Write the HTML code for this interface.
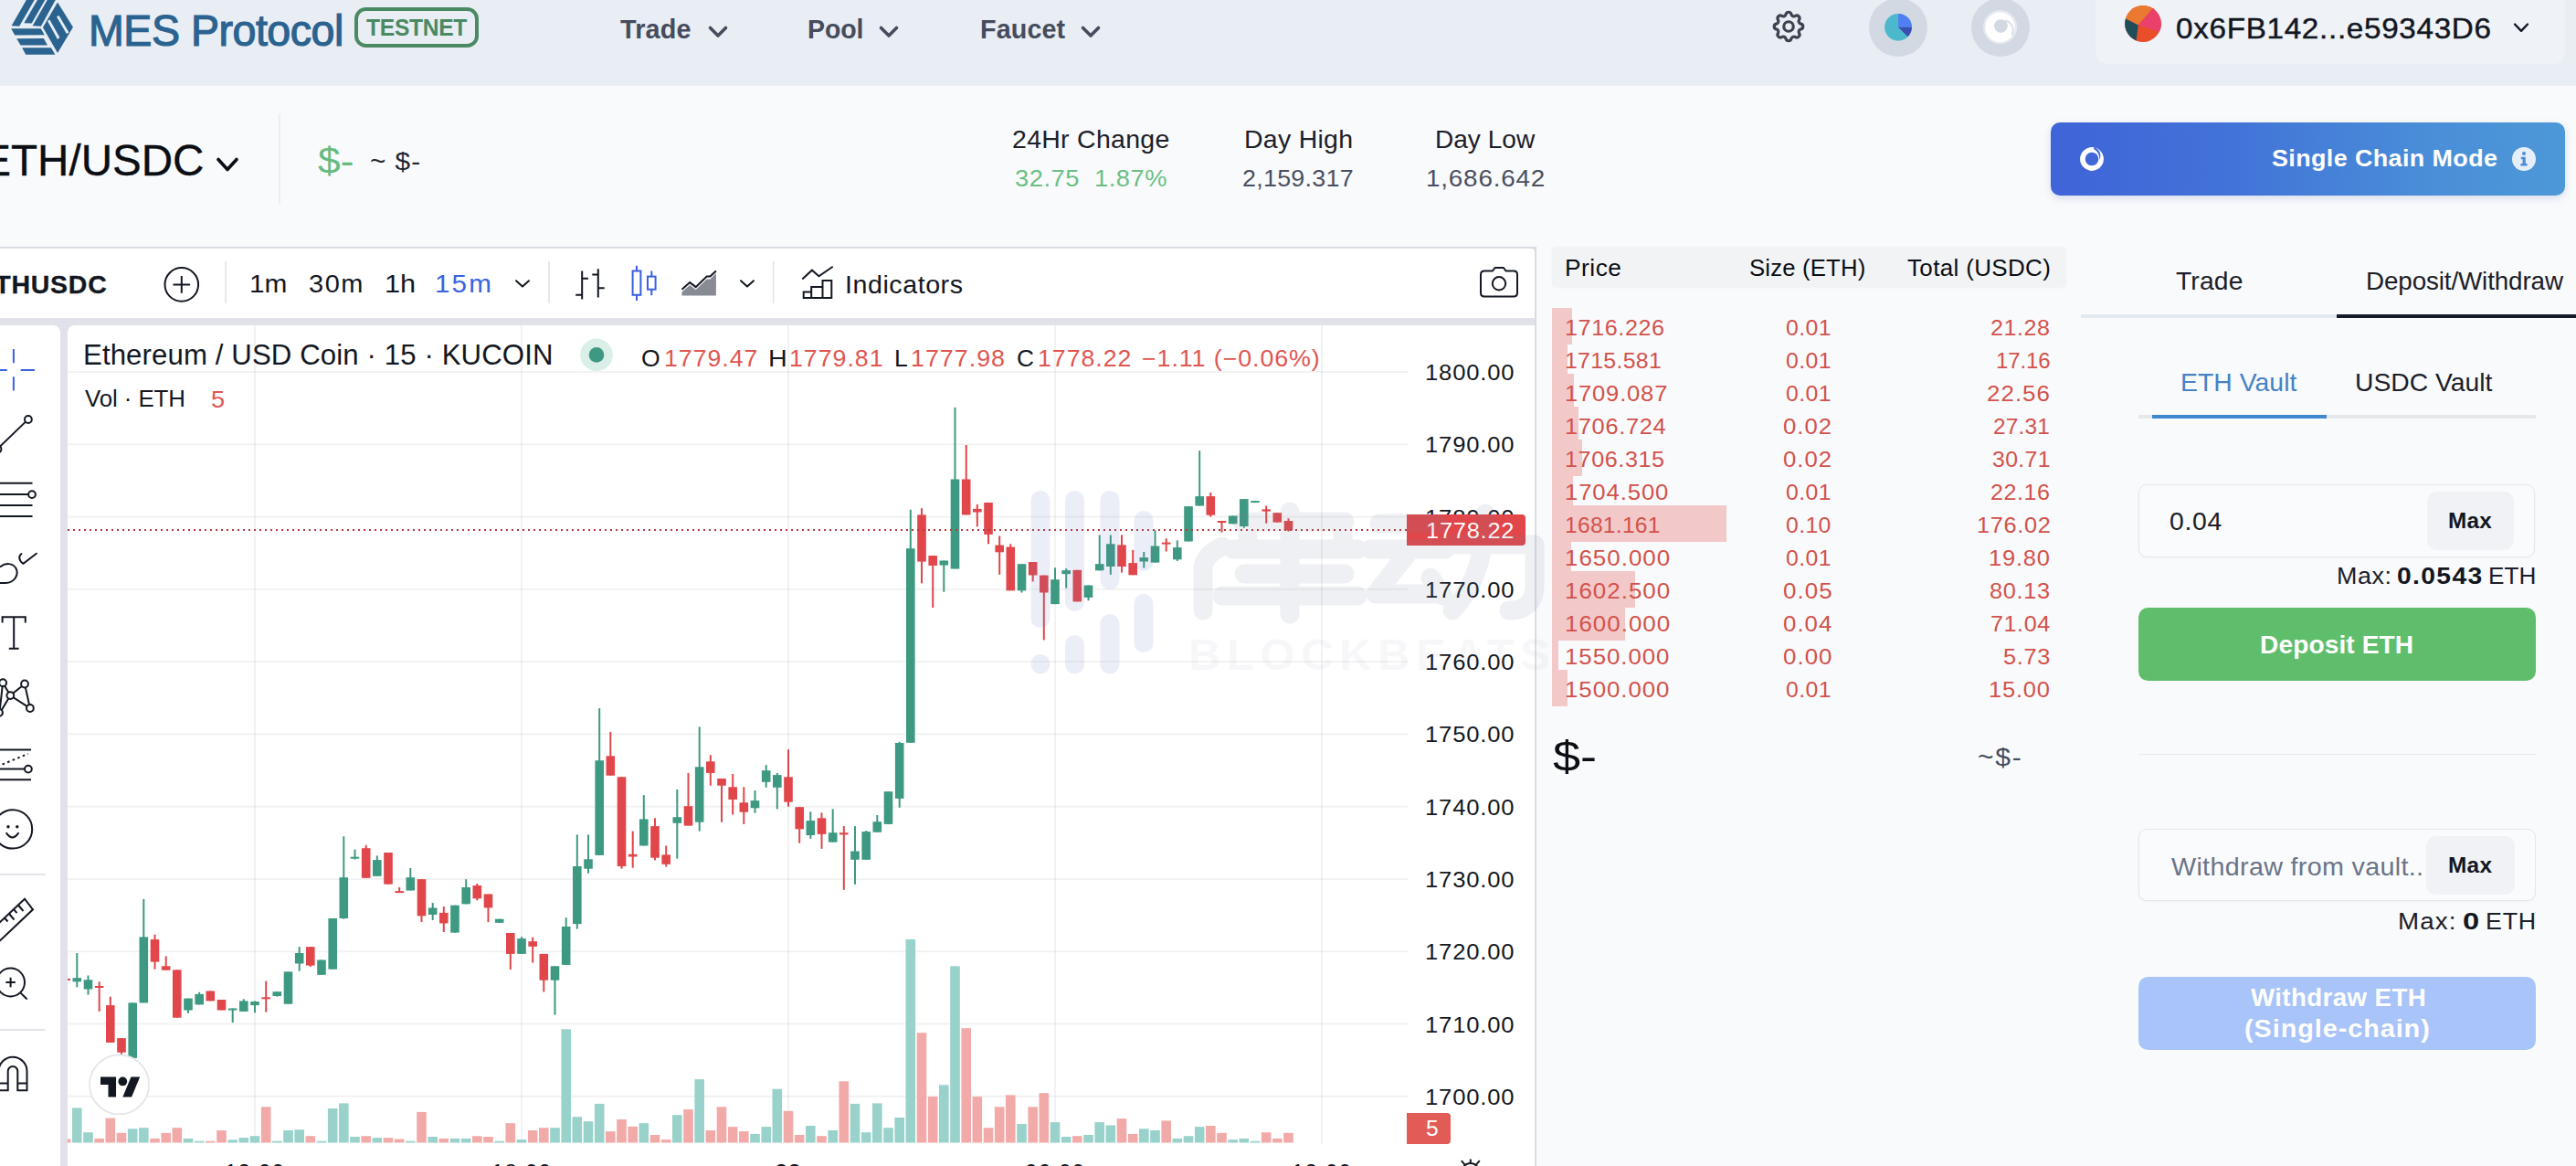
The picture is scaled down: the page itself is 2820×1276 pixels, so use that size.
<!DOCTYPE html>
<html><head><meta charset="utf-8"><title>MES Protocol</title>
<style>
html,body{margin:0;padding:0;width:2820px;height:1276px;overflow:hidden}
#root{position:absolute;left:0;top:0;width:2820px;height:1276px;overflow:hidden;background:#f9fafc}
body{width:2820px;height:1276px;overflow:hidden;position:relative;background:#f9fafc;font-family:"Liberation Sans", sans-serif;}
b{font-weight:700}
</style></head><body><div id="root">
<div style="position:absolute;left:0.0px;top:0.0px;width:2820.0px;height:94.0px;background:#e9edf4;"></div>
<svg style="position:absolute;left:0;top:0" width="100" height="70" viewBox="0 0 1666 1166"><g fill="#2b6390">
<polygon points="210,470 352,480 628,0 480,0"/>
<polygon points="438,422 578,426 822,0 682,0"/>
<polygon points="594,470 748,480 1012,0 862,0"/>
<polygon points="203,520 745,520 812,636 270,640"/>
<polygon points="303,704 797,700 866,826 376,826"/>
<polygon points="403,870 932,870 1007,996 470,996"/>
<polygon points="1050,42 1332,495 1050,968 782,500"/>
</g><g fill="#e9edf4">
<polygon points="1033,306 1075,284 1257,592 1215,616"/>
<polygon points="866,382 906,358 1088,682 1050,716"/>
</g></svg>

<div style="position:absolute;left:96.67px;top:4.64px;height:57.0px;line-height:57.0px;font-size:47.5px;color:#2b6390;font-weight:400;white-space:nowrap;letter-spacing:-0.507px;transform-origin:0 0;transform:scaleX(0.9807);-webkit-text-stroke:1.2px #2b6390;">MES Protocol</div>
<div style="position:absolute;left:388.0px;top:8.3px;width:136.0px;height:43.6px;background:transparent;box-sizing:border-box;border:4px solid #4a8a62;border-radius:12.5px;"></div>
<div style="position:absolute;left:400.75px;top:15.44px;height:30.0px;line-height:30.0px;font-size:25px;color:#4a8a62;font-weight:700;white-space:nowrap;letter-spacing:-0.294px;transform-origin:0 0;transform:scaleX(0.9847);">TESTNET</div>
<div style="position:absolute;left:679.31px;top:14.83px;height:34.3px;line-height:34.3px;font-size:28.6px;color:#454c5c;font-weight:700;white-space:nowrap;letter-spacing:0.157px;transform-origin:0 0;transform:scaleX(1.0085);">Trade</div>
<svg style="position:absolute;left:773.5px;top:24px" width="24" height="22"><polyline points="3.5,6.5 12,15 20.5,6.5" fill="none" stroke="#454c5c" stroke-width="3.6" stroke-linecap="round" stroke-linejoin="round"/></svg>
<div style="position:absolute;left:884.35px;top:14.83px;height:34.3px;line-height:34.3px;font-size:28.6px;color:#454c5c;font-weight:700;white-space:nowrap;letter-spacing:-0.067px;transform-origin:0 0;transform:scaleX(0.9966);">Pool</div>
<svg style="position:absolute;left:960.5px;top:24px" width="24" height="22"><polyline points="3.5,6.5 12,15 20.5,6.5" fill="none" stroke="#454c5c" stroke-width="3.6" stroke-linecap="round" stroke-linejoin="round"/></svg>
<div style="position:absolute;left:1072.53px;top:14.83px;height:34.3px;line-height:34.3px;font-size:28.6px;color:#454c5c;font-weight:700;white-space:nowrap;letter-spacing:0.095px;transform-origin:0 0;transform:scaleX(1.0053);">Faucet</div>
<svg style="position:absolute;left:1182px;top:24px" width="24" height="22"><polyline points="3.5,6.5 12,15 20.5,6.5" fill="none" stroke="#454c5c" stroke-width="3.6" stroke-linecap="round" stroke-linejoin="round"/></svg>
<svg style="position:absolute;left:1936.9px;top:7.8px" width="42" height="42" viewBox="0 0 24 24" fill="none" stroke="#3b4250" stroke-width="1.85" stroke-linecap="round" stroke-linejoin="round"><path d="M10.325 4.317c.426-1.756 2.924-1.756 3.35 0a1.724 1.724 0 002.573 1.066c1.543-.94 3.31.826 2.37 2.37a1.724 1.724 0 001.065 2.572c1.756.426 1.756 2.924 0 3.35a1.724 1.724 0 00-1.066 2.573c.94 1.543-.826 3.31-2.37 2.37a1.724 1.724 0 00-2.572 1.065c-.426 1.756-2.924 1.756-3.35 0a1.724 1.724 0 00-2.573-1.066c-1.543.94-3.31-.826-2.37-2.37a1.724 1.724 0 00-1.065-2.572c-1.756-.426-1.756-2.924 0-3.35a1.724 1.724 0 001.066-2.573c-.94-1.543.826-3.31 2.37-2.37.996.608 2.296.07 2.572-1.065z"/><path d="M15 12a3 3 0 11-6 0 3 3 0 016 0z"/></svg>
<svg style="position:absolute;left:2040px;top:-10px" width="190" height="80" viewBox="2040 -10 190 80">
<circle cx="2078" cy="30" r="32" fill="#d3d9e3"/>
<circle cx="2078" cy="29.8" r="14.9" fill="#4bb9cb"/>
<path d="M2078 29.8 L2078 14.9 A14.9 14.9 0 0 1 2092.9 29.8 Z" fill="#4f7ff0"/>
<path d="M2078 29.8 L2092.9 29.8 A14.9 14.9 0 0 1 2088.5 40.3 Z" fill="#3b4fb3"/>
<circle cx="2190" cy="30" r="32" fill="#d3d9e3"/>
<circle cx="2189.6" cy="29.6" r="18.6" fill="#fff" opacity=".45"/>
<circle cx="2189.4" cy="29.8" r="16.2" fill="#fff"/>
<circle cx="2190.4" cy="28.6" r="7.4" fill="#d3d9e3"/>
<path d="M2195 22.5 C2202 24 2205.5 31 2202.5 38.5" fill="none" stroke="#d3d9e3" stroke-width="2.2" opacity=".8"/>
</svg>

<div style="position:absolute;left:2294.0px;top:-12.0px;width:514.0px;height:81.5px;background:#eff2f7;border-radius:12px;"></div>
<svg style="position:absolute;left:2325px;top:4.8px" width="42" height="42" viewBox="-21 -21 42 42">
<defs><clipPath id="av"><circle r="19.9"/></clipPath></defs>
<g clip-path="url(#av)"><rect x="-21" y="-21" width="42" height="42" fill="#e94d2a"/>
<polygon points="-5.2,1.5 -22,-7 -22,-22 13,-22 13,-19.5" fill="#ea7a2f"/>
<polygon points="-5.2,1.5 13,-19.5 13,-22 22,-22 22,9.8" fill="#e9416a"/>
<polygon points="-5.2,1.5 -7.8,21 -22,22 -22,-7" fill="#1f4e5a"/>
</g></svg>

<div style="position:absolute;left:2382.47px;top:11.61px;height:38.4px;line-height:38.4px;font-size:32px;color:#131722;font-weight:400;white-space:nowrap;letter-spacing:0.660px;transform-origin:0 0;transform:scaleX(1.0389);-webkit-text-stroke:0.45px #131722;">0x6FB142...e59343D6</div>
<svg style="position:absolute;left:2750px;top:22px" width="20" height="16"><polyline points="3,4.5 10,11.8 17,4.5" fill="none" stroke="#131722" stroke-width="2.4" stroke-linecap="round" stroke-linejoin="round"/></svg>
<div style="position:absolute;top:146.7px;height:57.1px;line-height:57.1px;font-size:47.6px;color:#0b0e14;font-weight:400;white-space:nowrap;right:2596.5px;-webkit-text-stroke:0.35px #0b0e14;">ETH/USDC</div>
<svg style="position:absolute;left:234px;top:168px" width="30" height="24"><polyline points="5,6.5 15,17.5 25,6.5" fill="none" stroke="#0b0e14" stroke-width="3.6" stroke-linecap="round" stroke-linejoin="round"/></svg>
<div style="position:absolute;left:305.0px;top:124.0px;width:1.5px;height:100.0px;background:#eceef2;"></div>
<div style="position:absolute;left:348.46px;top:152.34px;height:48.0px;line-height:48.0px;font-size:40px;color:#66bc80;font-weight:400;white-space:nowrap;letter-spacing:0.000px;transform-origin:0 0;transform:scaleX(1.1078);">$-</div>
<div style="position:absolute;left:404.56px;top:160.30px;height:33.6px;line-height:33.6px;font-size:28px;color:#22262e;font-weight:400;white-space:nowrap;letter-spacing:0.922px;transform-origin:0 0;transform:scaleX(1.0631);">~ $-</div>
<div style="position:absolute;left:1107.88px;top:136.40px;height:33.6px;line-height:33.6px;font-size:28px;color:#1c2028;font-weight:400;white-space:nowrap;letter-spacing:0.280px;transform-origin:0 0;transform:scaleX(1.0174);">24Hr Change</div>
<div style="position:absolute;left:1110.71px;top:179.51px;height:31.6px;line-height:31.6px;font-size:26.3px;color:#6cbf84;font-weight:400;white-space:nowrap;letter-spacing:0.501px;transform-origin:0 0;transform:scaleX(1.0373);">32.75&nbsp; 1.87%</div>
<div style="position:absolute;left:1361.72px;top:136.40px;height:33.6px;line-height:33.6px;font-size:28px;color:#1c2028;font-weight:400;white-space:nowrap;letter-spacing:0.265px;transform-origin:0 0;transform:scaleX(1.0170);">Day High</div>
<div style="position:absolute;left:1360.16px;top:179.51px;height:31.6px;line-height:31.6px;font-size:26.3px;color:#4a5060;font-weight:400;white-space:nowrap;letter-spacing:0.282px;transform-origin:0 0;transform:scaleX(1.0201);">2,159.317</div>
<div style="position:absolute;left:1571.46px;top:136.40px;height:33.6px;line-height:33.6px;font-size:28px;color:#1c2028;font-weight:400;white-space:nowrap;letter-spacing:0.015px;transform-origin:0 0;transform:scaleX(1.0008);">Day Low</div>
<div style="position:absolute;left:1561.11px;top:179.51px;height:31.6px;line-height:31.6px;font-size:26.3px;color:#4a5060;font-weight:400;white-space:nowrap;letter-spacing:0.772px;transform-origin:0 0;transform:scaleX(1.0574);">1,686.642</div>
<div style="position:absolute;left:2245.0px;top:134.0px;width:563.0px;height:80.0px;background:linear-gradient(90deg,#3f64d8 0%,#4273d8 35%,#4a8fd8 75%,#4d98d8 100%);border-radius:10px;box-shadow:0 3px 8px rgba(60,90,160,.18);"></div>
<div style="position:absolute;left:2487.49px;top:157.90px;height:31.4px;line-height:31.4px;font-size:26.2px;color:#fff;font-weight:700;white-space:nowrap;letter-spacing:0.385px;transform-origin:0 0;transform:scaleX(1.0272);">Single Chain Mode</div>
<svg style="position:absolute;left:2270px;top:154px" width="40" height="40" viewBox="-20 -20 40 40">
<circle r="10.1" fill="none" stroke="#fff" stroke-width="5.6"/>
<path d="M2.5 -13.2 C9 -10.5 11 -4 8.2 1.5 C9 -4 6.5 -8.5 2 -11Z" fill="#4068d8"/>
</svg>
<svg style="position:absolute;left:2743px;top:154px" width="40" height="40" viewBox="-20 -20 40 40">
<circle r="13" fill="#e6eef9"/>
<circle cx="0" cy="-6" r="2" fill="#4a8fd8"/>
<path d="M-3.2 -2.2 H1.8 V5 H3.6 V7.4 H-3.6 V5 H-1.4 V0.2 H-3.2Z" fill="#4a8fd8"/>
</svg>

<div style="position:absolute;left:-10.0px;top:270.0px;width:1692.0px;height:1100.0px;background:#e1e2e9;box-sizing:border-box;border:2px solid #dadce3;"></div>
<div style="position:absolute;left:-10.0px;top:272.0px;width:1690.0px;height:76.0px;background:#fff;border-top-right-radius:4px;"></div>
<div style="position:absolute;left:-10.0px;top:356.0px;width:76.0px;height:930.0px;background:#fff;border-top-right-radius:8px;"></div>
<div style="position:absolute;left:74.0px;top:356.0px;width:1606.0px;height:930.0px;background:#fff;border-top-left-radius:8px;"></div>
<svg style="position:absolute;left:0;top:272px" width="1680" height="76" viewBox="0 272 1680 76" fill="none" stroke="#131722" stroke-width="2" >
<circle cx="198.8" cy="311.4" r="18.3" stroke-width="2"/>
<path d="M189.5 311.4H208.1M198.8 302.1V320.7" />
<rect x="246.3" y="286" width="1.6" height="46" fill="#e0e3eb" stroke="none"/>
<polyline points="565,307.2 572,313.6 579,307.2" stroke-linecap="round" stroke-linejoin="round"/>
<rect x="600.2" y="286" width="1.6" height="46" fill="#e0e3eb" stroke="none"/>
<path d="M637.2 296.5V327.6M630.2 322.8H637.2M637.2 304.8H644M654.8 294.3V325.4M648.3 300.4H654.8M654.8 315.2H661.7"/>
<g stroke="#3b5fe0"><path d="M697 290.7V296.5M697 322.8V329M713.3 296.5V302.6M713.3 316.7V323.3"/><rect x="692.6" y="296.5" width="8.8" height="26.3"/><rect x="709" y="302.6" width="8.6" height="14.1"/></g>
<defs><pattern id="dots" x="746" y="296" width="4" height="4" patternUnits="userSpaceOnUse"><rect width="2" height="2" fill="#131722"/><rect x="2" y="2" width="2" height="2" fill="#131722"/></pattern></defs>
<path d="M746.5 319.5L755.2 312L761.7 317L773.7 305.5L777.4 305.5L783.9 299V323.5H746.5Z" fill="#888b93" stroke="none"/>
<polyline points="746.5,316.7 755.2,309.1 761.7,314.1 773.7,302.6 777.4,302.6 783.9,296.5"/>
<polyline points="811,307.2 818,313.6 825,307.2" stroke-linecap="round" stroke-linejoin="round"/>
<rect x="845.8" y="286" width="1.6" height="46" fill="#e0e3eb" stroke="none"/>
<path d="M879.7 326V319.6H888.2V326M888.2 319.6V314.1H900.5V326M900.5 314.1V307H910.3V326M878.7 326H911.3"/>
<polyline points="878.3,305.4 888.9,295.7 896.5,302.2 911.7,291.7"/>
<path d="M1634 296.5L1636.5 293H1646L1648.5 296.5H1657Q1661 296.5 1661 300.5V320.5Q1661 324.5 1657 324.5H1625Q1621 324.5 1621 320.5V300.5Q1621 296.5 1625 296.5Z" stroke-linejoin="round"/>
<circle cx="1641" cy="310.3" r="7.2"/>
</svg>

<div style="position:absolute;top:293.8px;height:34.2px;line-height:34.2px;font-size:28.5px;color:#131722;font-weight:700;white-space:nowrap;letter-spacing:0.75px;right:2702.5px;-webkit-text-stroke:0.3px #131722;">ETHUSDC</div>
<div style="position:absolute;left:272.56px;top:294.86px;height:32.8px;line-height:32.8px;font-size:27.3px;color:#131722;font-weight:400;white-space:nowrap;letter-spacing:0.000px;transform-origin:0 0;transform:scaleX(1.0930);">1m</div>
<div style="position:absolute;left:337.74px;top:294.86px;height:32.8px;line-height:32.8px;font-size:27.3px;color:#131722;font-weight:400;white-space:nowrap;letter-spacing:1.453px;transform-origin:0 0;transform:scaleX(1.0614);">30m</div>
<div style="position:absolute;left:420.50px;top:294.86px;height:32.8px;line-height:32.8px;font-size:27.3px;color:#131722;font-weight:400;white-space:nowrap;letter-spacing:0.000px;transform-origin:0 0;transform:scaleX(1.1253);">1h</div>
<div style="position:absolute;left:475.78px;top:294.86px;height:32.8px;line-height:32.8px;font-size:27.3px;color:#3b63e0;font-weight:400;white-space:nowrap;letter-spacing:1.940px;transform-origin:0 0;transform:scaleX(1.0855);">15m</div>
<div style="position:absolute;left:925.02px;top:295.07px;height:33.0px;line-height:33.0px;font-size:27.5px;color:#131722;font-weight:400;white-space:nowrap;letter-spacing:0.513px;transform-origin:0 0;transform:scaleX(1.0416);">Indicators</div>
<svg style="position:absolute;left:0;top:356px" width="66" height="920" viewBox="0 356 66 920" fill="none" stroke="#131722" stroke-width="2">
<g stroke="#3b63e0"><path d="M14.9 381.9V397.3M14.9 412.2V427.4M-1 405H7.7M22.6 405H38"/></g>
<path d="M0 488.6L28 461.6"/><circle cx="30.9" cy="459" r="3.9"/><circle cx="-2.5" cy="491.5" r="3.9"/>
<path d="M0 528.7H35.5M0 541.1H31M0 552.9H35.5M0 565H35.5"/><circle cx="35" cy="541.1" r="3.9"/>
<path d="M0 620.5C6 615.5 14 616 17.5 622C21 629 16 637.5 6 638L0 638"/><path d="M23.5 606C20 608.5 20.5 613.5 25.5 616.8L39.9 605.7" stroke-linecap="round"/>
<path d="M2.6 681.4V675.2H27.8V681.4M15.2 675.2V709.7M9.8 709.7H20.6"/>
<path d="M3.1 747.2L11.3 761.1L27 748.5L32.9 775L11.3 761.1L0 779.9M3.1 747.2L0 775"/><g fill="#fff"><circle cx="3.1" cy="747.2" r="3.9"/><circle cx="11.3" cy="761.1" r="3.9"/><circle cx="27" cy="748.5" r="3.9"/><circle cx="32.9" cy="775" r="3.9"/><circle cx="-1" cy="779.9" r="3.9"/></g>
<path d="M0 820.5H34M0 853.2H34M0 841.6H27"/><circle cx="30.9" cy="841.6" r="3.9"/><path d="M2.6 836.5L30.9 824.9" stroke-dasharray="2.5 3.5"/>
<circle cx="14" cy="907.4" r="21.2"/><circle cx="9" cy="904.7" r="1.7" fill="#131722" stroke="none"/><circle cx="18.8" cy="904.7" r="1.7" fill="#131722" stroke="none"/><path d="M7.2 911.9Q13.5 921 20 911.9" stroke-linecap="round"/>
<rect x="0" y="956" width="49.6" height="2" fill="#e0e3eb" stroke="none"/>
<path d="M-3 1012L27 983.7L36 995.3L0 1029.4L-3 1030"/><path d="M5 1004.5L8.5 1008.5M10 1000L15.5 1006.5M15 995.2L18.5 999.2M20 990.5L25.5 997"/>
<circle cx="11.6" cy="1075" r="15.4"/><path d="M6.4 1075H16.8M11.6 1069.8V1080.2M22.6 1086.6L29.6 1093.5"/>
<rect x="0" y="1126" width="49.6" height="2" fill="#e0e3eb" stroke="none"/>
<path d="M-1.5 1193.3V1172.2A15.5 15.5 0 0 1 29.5 1172.2V1193.3H19.3V1172.2A5.3 5.3 0 0 0 8.7 1172.2V1193.3Z"/><path d="M-1.5 1185.6H8.7M19.3 1185.6H29.5"/>
</svg>

<svg style="position:absolute;left:0;top:0" width="2820" height="1276" viewBox="0 0 2820 1276"><defs><clipPath id="pane"><rect x="74" y="356" width="1467" height="920"/></clipPath></defs>
<rect x="74" y="406.0" width="1467" height="2" fill="rgba(0,0,0,0.05)"/>
<rect x="74" y="485.3" width="1467" height="2" fill="rgba(0,0,0,0.05)"/>
<rect x="74" y="564.6" width="1467" height="2" fill="rgba(0,0,0,0.05)"/>
<rect x="74" y="643.8" width="1467" height="2" fill="rgba(0,0,0,0.05)"/>
<rect x="74" y="723.1" width="1467" height="2" fill="rgba(0,0,0,0.05)"/>
<rect x="74" y="802.4" width="1467" height="2" fill="rgba(0,0,0,0.05)"/>
<rect x="74" y="881.7" width="1467" height="2" fill="rgba(0,0,0,0.05)"/>
<rect x="74" y="961.0" width="1467" height="2" fill="rgba(0,0,0,0.05)"/>
<rect x="74" y="1040.2" width="1467" height="2" fill="rgba(0,0,0,0.05)"/>
<rect x="74" y="1119.5" width="1467" height="2" fill="rgba(0,0,0,0.05)"/>
<rect x="74" y="1198.8" width="1467" height="2" fill="rgba(0,0,0,0.05)"/>
<rect x="278" y="356" width="2" height="895.5" fill="rgba(0,0,0,0.05)"/>
<rect x="570" y="356" width="2" height="895.5" fill="rgba(0,0,0,0.05)"/>
<rect x="862" y="356" width="2" height="895.5" fill="rgba(0,0,0,0.05)"/>
<rect x="1154" y="356" width="2" height="895.5" fill="rgba(0,0,0,0.05)"/>
<rect x="1446" y="356" width="2" height="895.5" fill="rgba(0,0,0,0.05)"/>
<g clip-path="url(#pane)">
<rect x="66.9" y="1246.5" width="10.6" height="4.0" fill="#f2aaa8"/>
<rect x="79.0" y="1212.4" width="10.6" height="38.1" fill="#98d2cb"/>
<rect x="91.2" y="1239.2" width="10.6" height="11.3" fill="#98d2cb"/>
<rect x="103.4" y="1245.9" width="10.6" height="4.6" fill="#f2aaa8"/>
<rect x="115.5" y="1223.6" width="10.6" height="26.9" fill="#f2aaa8"/>
<rect x="127.7" y="1239.8" width="10.6" height="10.7" fill="#f2aaa8"/>
<rect x="139.9" y="1235.3" width="10.6" height="15.2" fill="#98d2cb"/>
<rect x="152.0" y="1234.2" width="10.6" height="16.3" fill="#98d2cb"/>
<rect x="164.2" y="1245.9" width="10.6" height="4.6" fill="#f2aaa8"/>
<rect x="176.4" y="1239.8" width="10.6" height="10.7" fill="#f2aaa8"/>
<rect x="188.5" y="1234.2" width="10.6" height="16.3" fill="#f2aaa8"/>
<rect x="200.7" y="1245.9" width="10.6" height="4.6" fill="#98d2cb"/>
<rect x="212.9" y="1248.7" width="10.6" height="1.8" fill="#98d2cb"/>
<rect x="225.0" y="1248.7" width="10.6" height="1.8" fill="#f2aaa8"/>
<rect x="237.2" y="1237.0" width="10.6" height="13.5" fill="#f2aaa8"/>
<rect x="249.4" y="1247.3" width="10.6" height="3.2" fill="#98d2cb"/>
<rect x="261.5" y="1245.1" width="10.6" height="5.4" fill="#98d2cb"/>
<rect x="273.7" y="1243.2" width="10.6" height="7.3" fill="#98d2cb"/>
<rect x="285.9" y="1211.3" width="10.6" height="39.2" fill="#f2aaa8"/>
<rect x="298.0" y="1248.7" width="10.6" height="1.8" fill="#98d2cb"/>
<rect x="310.2" y="1237.0" width="10.6" height="13.5" fill="#98d2cb"/>
<rect x="322.4" y="1236.2" width="10.6" height="14.3" fill="#98d2cb"/>
<rect x="334.5" y="1243.2" width="10.6" height="7.3" fill="#f2aaa8"/>
<rect x="346.7" y="1248.7" width="10.6" height="1.8" fill="#98d2cb"/>
<rect x="358.9" y="1213.0" width="10.6" height="37.5" fill="#98d2cb"/>
<rect x="371.0" y="1207.4" width="10.6" height="43.1" fill="#98d2cb"/>
<rect x="383.2" y="1244.0" width="10.6" height="6.5" fill="#98d2cb"/>
<rect x="395.4" y="1243.2" width="10.6" height="7.3" fill="#f2aaa8"/>
<rect x="407.5" y="1245.1" width="10.6" height="5.4" fill="#98d2cb"/>
<rect x="419.7" y="1245.1" width="10.6" height="5.4" fill="#f2aaa8"/>
<rect x="431.9" y="1246.5" width="10.6" height="4.0" fill="#f2aaa8"/>
<rect x="444.0" y="1248.7" width="10.6" height="1.8" fill="#98d2cb"/>
<rect x="456.2" y="1216.9" width="10.6" height="33.6" fill="#f2aaa8"/>
<rect x="468.4" y="1244.0" width="10.6" height="6.5" fill="#98d2cb"/>
<rect x="480.5" y="1245.9" width="10.6" height="4.6" fill="#f2aaa8"/>
<rect x="492.7" y="1245.9" width="10.6" height="4.6" fill="#98d2cb"/>
<rect x="504.9" y="1245.9" width="10.6" height="4.6" fill="#98d2cb"/>
<rect x="517.0" y="1243.2" width="10.6" height="7.3" fill="#f2aaa8"/>
<rect x="529.2" y="1244.0" width="10.6" height="6.5" fill="#f2aaa8"/>
<rect x="541.4" y="1248.7" width="10.6" height="1.8" fill="#98d2cb"/>
<rect x="553.5" y="1229.2" width="10.6" height="21.3" fill="#f2aaa8"/>
<rect x="565.7" y="1247.1" width="10.6" height="3.4" fill="#98d2cb"/>
<rect x="577.9" y="1237.0" width="10.6" height="13.5" fill="#f2aaa8"/>
<rect x="590.0" y="1234.2" width="10.6" height="16.3" fill="#f2aaa8"/>
<rect x="602.2" y="1234.2" width="10.6" height="16.3" fill="#98d2cb"/>
<rect x="614.4" y="1126.3" width="10.6" height="124.2" fill="#98d2cb"/>
<rect x="626.5" y="1222.2" width="10.6" height="28.3" fill="#98d2cb"/>
<rect x="638.7" y="1227.2" width="10.6" height="23.3" fill="#98d2cb"/>
<rect x="650.9" y="1207.9" width="10.6" height="42.6" fill="#98d2cb"/>
<rect x="663.0" y="1238.1" width="10.6" height="12.4" fill="#f2aaa8"/>
<rect x="675.2" y="1225.0" width="10.6" height="25.5" fill="#f2aaa8"/>
<rect x="687.4" y="1232.8" width="10.6" height="17.7" fill="#f2aaa8"/>
<rect x="699.5" y="1229.2" width="10.6" height="21.3" fill="#98d2cb"/>
<rect x="711.7" y="1242.0" width="10.6" height="8.5" fill="#f2aaa8"/>
<rect x="723.9" y="1247.1" width="10.6" height="3.4" fill="#f2aaa8"/>
<rect x="736.0" y="1220.2" width="10.6" height="30.3" fill="#98d2cb"/>
<rect x="748.2" y="1214.1" width="10.6" height="36.4" fill="#f2aaa8"/>
<rect x="760.4" y="1181.1" width="10.6" height="69.4" fill="#98d2cb"/>
<rect x="772.5" y="1237.0" width="10.6" height="13.5" fill="#f2aaa8"/>
<rect x="784.7" y="1211.3" width="10.6" height="39.2" fill="#f2aaa8"/>
<rect x="796.9" y="1233.1" width="10.6" height="17.4" fill="#f2aaa8"/>
<rect x="809.0" y="1238.1" width="10.6" height="12.4" fill="#f2aaa8"/>
<rect x="821.2" y="1240.9" width="10.6" height="9.6" fill="#98d2cb"/>
<rect x="833.4" y="1233.1" width="10.6" height="17.4" fill="#98d2cb"/>
<rect x="845.5" y="1191.7" width="10.6" height="58.8" fill="#98d2cb"/>
<rect x="857.7" y="1215.8" width="10.6" height="34.7" fill="#f2aaa8"/>
<rect x="869.9" y="1242.0" width="10.6" height="8.5" fill="#f2aaa8"/>
<rect x="882.0" y="1232.0" width="10.6" height="18.5" fill="#98d2cb"/>
<rect x="894.2" y="1243.2" width="10.6" height="7.3" fill="#f2aaa8"/>
<rect x="906.4" y="1237.0" width="10.6" height="13.5" fill="#98d2cb"/>
<rect x="918.5" y="1183.3" width="10.6" height="67.2" fill="#f2aaa8"/>
<rect x="930.7" y="1207.9" width="10.6" height="42.6" fill="#98d2cb"/>
<rect x="942.9" y="1239.2" width="10.6" height="11.3" fill="#98d2cb"/>
<rect x="955.0" y="1207.4" width="10.6" height="43.1" fill="#98d2cb"/>
<rect x="967.2" y="1234.2" width="10.6" height="16.3" fill="#98d2cb"/>
<rect x="979.4" y="1223.0" width="10.6" height="27.5" fill="#98d2cb"/>
<rect x="991.5" y="1027.9" width="10.6" height="222.6" fill="#98d2cb"/>
<rect x="1003.7" y="1130.2" width="10.6" height="120.3" fill="#f2aaa8"/>
<rect x="1015.9" y="1200.1" width="10.6" height="50.4" fill="#f2aaa8"/>
<rect x="1028.0" y="1187.3" width="10.6" height="63.2" fill="#98d2cb"/>
<rect x="1040.2" y="1057.3" width="10.6" height="193.2" fill="#98d2cb"/>
<rect x="1052.4" y="1125.2" width="10.6" height="125.3" fill="#f2aaa8"/>
<rect x="1064.5" y="1200.1" width="10.6" height="50.4" fill="#f2aaa8"/>
<rect x="1076.7" y="1234.2" width="10.6" height="16.3" fill="#f2aaa8"/>
<rect x="1088.9" y="1211.3" width="10.6" height="39.2" fill="#f2aaa8"/>
<rect x="1101.0" y="1198.4" width="10.6" height="52.1" fill="#f2aaa8"/>
<rect x="1113.2" y="1230.0" width="10.6" height="20.5" fill="#98d2cb"/>
<rect x="1125.4" y="1211.3" width="10.6" height="39.2" fill="#f2aaa8"/>
<rect x="1137.5" y="1196.2" width="10.6" height="54.3" fill="#f2aaa8"/>
<rect x="1149.7" y="1228.1" width="10.6" height="22.4" fill="#98d2cb"/>
<rect x="1161.9" y="1244.0" width="10.6" height="6.5" fill="#98d2cb"/>
<rect x="1174.0" y="1243.2" width="10.6" height="7.3" fill="#f2aaa8"/>
<rect x="1186.2" y="1242.0" width="10.6" height="8.5" fill="#98d2cb"/>
<rect x="1198.4" y="1228.1" width="10.6" height="22.4" fill="#98d2cb"/>
<rect x="1210.5" y="1231.4" width="10.6" height="19.1" fill="#98d2cb"/>
<rect x="1222.7" y="1224.1" width="10.6" height="26.4" fill="#f2aaa8"/>
<rect x="1234.9" y="1240.9" width="10.6" height="9.6" fill="#f2aaa8"/>
<rect x="1247.0" y="1235.3" width="10.6" height="15.2" fill="#98d2cb"/>
<rect x="1259.2" y="1237.0" width="10.6" height="13.5" fill="#98d2cb"/>
<rect x="1271.4" y="1226.4" width="10.6" height="24.1" fill="#f2aaa8"/>
<rect x="1283.5" y="1245.9" width="10.6" height="4.6" fill="#98d2cb"/>
<rect x="1295.7" y="1243.2" width="10.6" height="7.3" fill="#98d2cb"/>
<rect x="1307.9" y="1233.1" width="10.6" height="17.4" fill="#98d2cb"/>
<rect x="1320.0" y="1232.0" width="10.6" height="18.5" fill="#f2aaa8"/>
<rect x="1332.2" y="1239.8" width="10.6" height="10.7" fill="#f2aaa8"/>
<rect x="1344.4" y="1247.1" width="10.6" height="3.4" fill="#98d2cb"/>
<rect x="1356.5" y="1245.9" width="10.6" height="4.6" fill="#98d2cb"/>
<rect x="1368.7" y="1248.7" width="10.6" height="1.8" fill="#98d2cb"/>
<rect x="1380.9" y="1239.2" width="10.6" height="11.3" fill="#f2aaa8"/>
<rect x="1393.0" y="1245.9" width="10.6" height="4.6" fill="#f2aaa8"/>
<rect x="1405.2" y="1239.8" width="10.6" height="10.7" fill="#f2aaa8"/>
<rect x="71.2" y="1071.0" width="2" height="2.0" fill="#e0464a"/>
<rect x="67.4" y="1071.0" width="9.6" height="2.0" fill="#e0464a"/>
<rect x="83.3" y="1043.0" width="2" height="37.4" fill="#3d9981"/>
<rect x="79.5" y="1070.2" width="9.6" height="4.1" fill="#3d9981"/>
<rect x="95.5" y="1067.5" width="2" height="21.1" fill="#3d9981"/>
<rect x="91.7" y="1072.3" width="9.6" height="10.2" fill="#3d9981"/>
<rect x="107.7" y="1074.3" width="2" height="32.6" fill="#e0464a"/>
<rect x="103.9" y="1079.0" width="9.6" height="2.0" fill="#e0464a"/>
<rect x="119.8" y="1090.6" width="2" height="50.3" fill="#e0464a"/>
<rect x="116.0" y="1100.1" width="9.6" height="40.8" fill="#e0464a"/>
<rect x="132.0" y="1136.1" width="2" height="17.7" fill="#e0464a"/>
<rect x="128.2" y="1136.1" width="9.6" height="15.6" fill="#e0464a"/>
<rect x="144.2" y="1097.4" width="2" height="61.1" fill="#3d9981"/>
<rect x="140.4" y="1097.4" width="9.6" height="60.5" fill="#3d9981"/>
<rect x="156.3" y="983.9" width="2" height="113.5" fill="#3d9981"/>
<rect x="152.5" y="1025.4" width="9.6" height="72.0" fill="#3d9981"/>
<rect x="168.5" y="1022.7" width="2" height="38.0" fill="#e0464a"/>
<rect x="164.7" y="1028.1" width="9.6" height="24.5" fill="#e0464a"/>
<rect x="180.7" y="1046.4" width="2" height="15.3" fill="#e0464a"/>
<rect x="176.9" y="1057.3" width="9.6" height="4.4" fill="#e0464a"/>
<rect x="192.8" y="1061.4" width="2" height="52.3" fill="#e0464a"/>
<rect x="189.0" y="1061.4" width="9.6" height="52.3" fill="#e0464a"/>
<rect x="205.0" y="1092.6" width="2" height="16.3" fill="#3d9981"/>
<rect x="201.2" y="1092.6" width="9.6" height="12.9" fill="#3d9981"/>
<rect x="217.2" y="1085.8" width="2" height="13.6" fill="#3d9981"/>
<rect x="213.4" y="1087.9" width="9.6" height="11.5" fill="#3d9981"/>
<rect x="229.3" y="1084.5" width="2" height="10.9" fill="#e0464a"/>
<rect x="225.5" y="1084.5" width="9.6" height="10.9" fill="#e0464a"/>
<rect x="241.5" y="1094.0" width="2" height="11.5" fill="#e0464a"/>
<rect x="237.7" y="1094.0" width="9.6" height="11.5" fill="#e0464a"/>
<rect x="253.7" y="1103.5" width="2" height="15.6" fill="#3d9981"/>
<rect x="249.9" y="1103.5" width="9.6" height="2.0" fill="#3d9981"/>
<rect x="265.8" y="1093.3" width="2" height="13.6" fill="#3d9981"/>
<rect x="262.0" y="1095.4" width="9.6" height="11.5" fill="#3d9981"/>
<rect x="278.0" y="1095.4" width="2" height="12.9" fill="#3d9981"/>
<rect x="274.2" y="1096.0" width="9.6" height="4.1" fill="#3d9981"/>
<rect x="290.2" y="1073.6" width="2" height="34.0" fill="#e0464a"/>
<rect x="286.4" y="1091.3" width="9.6" height="2.0" fill="#e0464a"/>
<rect x="302.3" y="1085.2" width="2" height="5.4" fill="#3d9981"/>
<rect x="298.5" y="1085.2" width="9.6" height="4.8" fill="#3d9981"/>
<rect x="314.5" y="1063.4" width="2" height="35.3" fill="#3d9981"/>
<rect x="310.7" y="1063.4" width="9.6" height="35.3" fill="#3d9981"/>
<rect x="326.7" y="1036.2" width="2" height="26.5" fill="#3d9981"/>
<rect x="322.9" y="1043.0" width="9.6" height="11.5" fill="#3d9981"/>
<rect x="338.8" y="1036.2" width="2" height="21.7" fill="#e0464a"/>
<rect x="335.0" y="1036.2" width="9.6" height="20.4" fill="#e0464a"/>
<rect x="351.0" y="1050.5" width="2" height="16.3" fill="#3d9981"/>
<rect x="347.2" y="1050.5" width="9.6" height="16.3" fill="#3d9981"/>
<rect x="363.2" y="1005.0" width="2" height="55.7" fill="#3d9981"/>
<rect x="359.4" y="1005.0" width="9.6" height="55.7" fill="#3d9981"/>
<rect x="375.3" y="915.3" width="2" height="90.4" fill="#3d9981"/>
<rect x="371.5" y="960.2" width="9.6" height="44.8" fill="#3d9981"/>
<rect x="387.5" y="929.6" width="2" height="10.9" fill="#3d9981"/>
<rect x="383.7" y="937.7" width="9.6" height="2.0" fill="#3d9981"/>
<rect x="399.7" y="924.8" width="2" height="36.0" fill="#e0464a"/>
<rect x="395.9" y="928.2" width="9.6" height="32.6" fill="#e0464a"/>
<rect x="411.8" y="936.4" width="2" height="22.4" fill="#3d9981"/>
<rect x="408.0" y="941.1" width="9.6" height="17.7" fill="#3d9981"/>
<rect x="424.0" y="933.0" width="2" height="34.6" fill="#e0464a"/>
<rect x="420.2" y="933.0" width="9.6" height="34.6" fill="#e0464a"/>
<rect x="436.2" y="971.0" width="2" height="6.1" fill="#e0464a"/>
<rect x="432.4" y="975.1" width="9.6" height="2.0" fill="#e0464a"/>
<rect x="448.3" y="950.0" width="2" height="24.5" fill="#3d9981"/>
<rect x="444.5" y="960.2" width="9.6" height="14.3" fill="#3d9981"/>
<rect x="460.5" y="962.2" width="2" height="46.9" fill="#e0464a"/>
<rect x="456.7" y="962.2" width="9.6" height="40.1" fill="#e0464a"/>
<rect x="472.7" y="988.0" width="2" height="19.0" fill="#3d9981"/>
<rect x="468.9" y="993.5" width="9.6" height="7.5" fill="#3d9981"/>
<rect x="484.8" y="992.1" width="2" height="27.9" fill="#e0464a"/>
<rect x="481.0" y="998.9" width="9.6" height="11.5" fill="#e0464a"/>
<rect x="497.0" y="990.7" width="2" height="29.9" fill="#3d9981"/>
<rect x="493.2" y="990.7" width="9.6" height="29.9" fill="#3d9981"/>
<rect x="509.2" y="962.2" width="2" height="27.2" fill="#3d9981"/>
<rect x="505.4" y="971.0" width="9.6" height="18.3" fill="#3d9981"/>
<rect x="521.3" y="967.0" width="2" height="18.3" fill="#e0464a"/>
<rect x="517.5" y="969.0" width="9.6" height="14.3" fill="#e0464a"/>
<rect x="533.5" y="978.5" width="2" height="30.6" fill="#e0464a"/>
<rect x="529.7" y="978.5" width="9.6" height="14.9" fill="#e0464a"/>
<rect x="545.7" y="1005.7" width="2" height="4.1" fill="#3d9981"/>
<rect x="541.9" y="1005.7" width="9.6" height="4.1" fill="#3d9981"/>
<rect x="557.8" y="1021.0" width="2" height="40.0" fill="#e0464a"/>
<rect x="554.0" y="1021.0" width="9.6" height="22.9" fill="#e0464a"/>
<rect x="570.0" y="1025.2" width="2" height="18.7" fill="#3d9981"/>
<rect x="566.2" y="1027.1" width="9.6" height="16.8" fill="#3d9981"/>
<rect x="582.2" y="1025.7" width="2" height="27.9" fill="#e0464a"/>
<rect x="578.4" y="1030.2" width="9.6" height="5.6" fill="#e0464a"/>
<rect x="594.3" y="1043.9" width="2" height="41.6" fill="#e0464a"/>
<rect x="590.5" y="1043.9" width="9.6" height="28.8" fill="#e0464a"/>
<rect x="606.5" y="1057.3" width="2" height="53.4" fill="#3d9981"/>
<rect x="602.7" y="1057.3" width="9.6" height="15.4" fill="#3d9981"/>
<rect x="618.7" y="1004.2" width="2" height="51.7" fill="#3d9981"/>
<rect x="614.9" y="1014.0" width="9.6" height="41.9" fill="#3d9981"/>
<rect x="630.8" y="913.4" width="2" height="103.2" fill="#3d9981"/>
<rect x="627.0" y="948.0" width="9.6" height="63.1" fill="#3d9981"/>
<rect x="643.0" y="913.4" width="2" height="42.3" fill="#3d9981"/>
<rect x="639.2" y="940.3" width="9.6" height="10.4" fill="#3d9981"/>
<rect x="655.2" y="775.1" width="2" height="160.8" fill="#3d9981"/>
<rect x="651.4" y="832.2" width="9.6" height="103.7" fill="#3d9981"/>
<rect x="667.3" y="800.9" width="2" height="47.7" fill="#e0464a"/>
<rect x="663.5" y="827.3" width="9.6" height="21.4" fill="#e0464a"/>
<rect x="679.5" y="850.3" width="2" height="100.4" fill="#e0464a"/>
<rect x="675.7" y="850.3" width="9.6" height="97.7" fill="#e0464a"/>
<rect x="691.7" y="909.6" width="2" height="40.1" fill="#e0464a"/>
<rect x="687.9" y="934.8" width="9.6" height="2.7" fill="#e0464a"/>
<rect x="703.8" y="870.1" width="2" height="55.4" fill="#3d9981"/>
<rect x="700.0" y="896.4" width="9.6" height="29.1" fill="#3d9981"/>
<rect x="716.0" y="895.3" width="2" height="46.1" fill="#e0464a"/>
<rect x="712.2" y="904.1" width="9.6" height="34.6" fill="#e0464a"/>
<rect x="728.2" y="925.5" width="2" height="23.1" fill="#e0464a"/>
<rect x="724.4" y="935.4" width="9.6" height="10.4" fill="#e0464a"/>
<rect x="740.3" y="864.0" width="2" height="75.7" fill="#3d9981"/>
<rect x="736.5" y="894.2" width="9.6" height="6.6" fill="#3d9981"/>
<rect x="752.5" y="845.9" width="2" height="57.6" fill="#e0464a"/>
<rect x="748.7" y="882.2" width="9.6" height="21.4" fill="#e0464a"/>
<rect x="764.7" y="795.4" width="2" height="114.2" fill="#3d9981"/>
<rect x="760.9" y="839.3" width="9.6" height="60.4" fill="#3d9981"/>
<rect x="776.8" y="826.2" width="2" height="33.5" fill="#e0464a"/>
<rect x="773.0" y="833.3" width="9.6" height="12.6" fill="#e0464a"/>
<rect x="789.0" y="852.0" width="2" height="47.7" fill="#e0464a"/>
<rect x="785.2" y="852.0" width="9.6" height="7.7" fill="#e0464a"/>
<rect x="801.2" y="847.0" width="2" height="44.5" fill="#e0464a"/>
<rect x="797.4" y="861.3" width="9.6" height="13.7" fill="#e0464a"/>
<rect x="813.3" y="861.3" width="2" height="40.6" fill="#e0464a"/>
<rect x="809.5" y="878.3" width="9.6" height="10.4" fill="#e0464a"/>
<rect x="825.5" y="865.1" width="2" height="24.7" fill="#3d9981"/>
<rect x="821.7" y="876.1" width="9.6" height="8.2" fill="#3d9981"/>
<rect x="837.7" y="837.1" width="2" height="24.7" fill="#3d9981"/>
<rect x="833.9" y="843.2" width="9.6" height="12.6" fill="#3d9981"/>
<rect x="849.8" y="845.9" width="2" height="39.5" fill="#3d9981"/>
<rect x="846.0" y="848.1" width="9.6" height="13.7" fill="#3d9981"/>
<rect x="862.0" y="820.1" width="2" height="62.6" fill="#e0464a"/>
<rect x="858.2" y="850.3" width="9.6" height="27.4" fill="#e0464a"/>
<rect x="874.2" y="883.2" width="2" height="39.5" fill="#e0464a"/>
<rect x="870.4" y="883.2" width="9.6" height="24.1" fill="#e0464a"/>
<rect x="886.3" y="888.2" width="2" height="29.6" fill="#3d9981"/>
<rect x="882.5" y="898.1" width="9.6" height="15.9" fill="#3d9981"/>
<rect x="898.5" y="889.3" width="2" height="39.5" fill="#e0464a"/>
<rect x="894.7" y="895.3" width="9.6" height="17.6" fill="#e0464a"/>
<rect x="910.7" y="885.4" width="2" height="36.2" fill="#3d9981"/>
<rect x="906.9" y="911.2" width="9.6" height="10.4" fill="#3d9981"/>
<rect x="922.8" y="904.1" width="2" height="69.7" fill="#e0464a"/>
<rect x="919.0" y="911.2" width="9.6" height="2.2" fill="#e0464a"/>
<rect x="935.0" y="904.1" width="2" height="63.7" fill="#3d9981"/>
<rect x="931.2" y="931.5" width="9.6" height="9.3" fill="#3d9981"/>
<rect x="947.2" y="909.0" width="2" height="31.8" fill="#3d9981"/>
<rect x="943.4" y="910.1" width="9.6" height="30.7" fill="#3d9981"/>
<rect x="959.3" y="892.0" width="2" height="18.7" fill="#3d9981"/>
<rect x="955.5" y="899.2" width="9.6" height="11.5" fill="#3d9981"/>
<rect x="971.5" y="866.2" width="2" height="35.7" fill="#3d9981"/>
<rect x="967.7" y="866.2" width="9.6" height="35.7" fill="#3d9981"/>
<rect x="983.7" y="811.9" width="2" height="71.9" fill="#3d9981"/>
<rect x="979.9" y="813.0" width="9.6" height="60.9" fill="#3d9981"/>
<rect x="995.8" y="557.7" width="2" height="255.1" fill="#3d9981"/>
<rect x="992.0" y="600.2" width="9.6" height="212.6" fill="#3d9981"/>
<rect x="1008.0" y="556.2" width="2" height="82.2" fill="#e0464a"/>
<rect x="1004.2" y="563.4" width="9.6" height="51.2" fill="#e0464a"/>
<rect x="1020.2" y="608.1" width="2" height="56.9" fill="#e0464a"/>
<rect x="1016.4" y="608.1" width="9.6" height="10.8" fill="#e0464a"/>
<rect x="1032.3" y="613.5" width="2" height="34.2" fill="#3d9981"/>
<rect x="1028.5" y="613.5" width="9.6" height="5.0" fill="#3d9981"/>
<rect x="1044.5" y="445.9" width="2" height="176.6" fill="#3d9981"/>
<rect x="1040.7" y="524.5" width="9.6" height="98.0" fill="#3d9981"/>
<rect x="1056.7" y="487.0" width="2" height="76.4" fill="#e0464a"/>
<rect x="1052.9" y="524.5" width="9.6" height="38.9" fill="#e0464a"/>
<rect x="1068.8" y="551.9" width="2" height="24.5" fill="#e0464a"/>
<rect x="1065.0" y="556.9" width="9.6" height="3.6" fill="#e0464a"/>
<rect x="1081.0" y="550.0" width="2" height="45.3" fill="#e0464a"/>
<rect x="1077.2" y="550.0" width="9.6" height="34.9" fill="#e0464a"/>
<rect x="1093.2" y="586.5" width="2" height="42.3" fill="#e0464a"/>
<rect x="1089.4" y="596.6" width="9.6" height="7.7" fill="#e0464a"/>
<rect x="1105.3" y="595.3" width="2" height="51.0" fill="#e0464a"/>
<rect x="1101.5" y="598.6" width="9.6" height="47.7" fill="#e0464a"/>
<rect x="1117.5" y="617.2" width="2" height="31.3" fill="#3d9981"/>
<rect x="1113.7" y="617.2" width="9.6" height="29.1" fill="#3d9981"/>
<rect x="1129.7" y="615.0" width="2" height="21.4" fill="#e0464a"/>
<rect x="1125.9" y="615.0" width="9.6" height="14.5" fill="#e0464a"/>
<rect x="1141.8" y="629.6" width="2" height="70.8" fill="#e0464a"/>
<rect x="1138.0" y="629.6" width="9.6" height="18.9" fill="#e0464a"/>
<rect x="1154.0" y="621.3" width="2" height="39.8" fill="#3d9981"/>
<rect x="1150.2" y="634.2" width="9.6" height="26.9" fill="#3d9981"/>
<rect x="1166.2" y="622.2" width="2" height="21.4" fill="#3d9981"/>
<rect x="1162.4" y="624.1" width="9.6" height="4.1" fill="#3d9981"/>
<rect x="1178.3" y="623.8" width="2" height="34.6" fill="#e0464a"/>
<rect x="1174.5" y="623.8" width="9.6" height="34.6" fill="#e0464a"/>
<rect x="1190.5" y="640.5" width="2" height="16.7" fill="#3d9981"/>
<rect x="1186.7" y="640.5" width="9.6" height="13.4" fill="#3d9981"/>
<rect x="1202.7" y="585.4" width="2" height="39.0" fill="#3d9981"/>
<rect x="1198.9" y="617.2" width="9.6" height="7.1" fill="#3d9981"/>
<rect x="1214.8" y="585.4" width="2" height="43.4" fill="#3d9981"/>
<rect x="1211.0" y="595.3" width="9.6" height="24.7" fill="#3d9981"/>
<rect x="1227.0" y="585.4" width="2" height="41.2" fill="#e0464a"/>
<rect x="1223.2" y="596.4" width="9.6" height="23.6" fill="#e0464a"/>
<rect x="1239.2" y="601.8" width="2" height="27.4" fill="#e0464a"/>
<rect x="1235.4" y="616.1" width="9.6" height="13.2" fill="#e0464a"/>
<rect x="1251.3" y="604.0" width="2" height="17.6" fill="#3d9981"/>
<rect x="1247.5" y="610.1" width="9.6" height="4.4" fill="#3d9981"/>
<rect x="1263.5" y="580.4" width="2" height="35.1" fill="#3d9981"/>
<rect x="1259.7" y="597.5" width="9.6" height="18.1" fill="#3d9981"/>
<rect x="1275.7" y="589.2" width="2" height="14.3" fill="#e0464a"/>
<rect x="1271.9" y="593.6" width="9.6" height="2.0" fill="#e0464a"/>
<rect x="1287.8" y="591.4" width="2" height="22.5" fill="#3d9981"/>
<rect x="1284.0" y="599.1" width="9.6" height="13.2" fill="#3d9981"/>
<rect x="1300.0" y="554.1" width="2" height="38.4" fill="#3d9981"/>
<rect x="1296.2" y="554.1" width="9.6" height="38.4" fill="#3d9981"/>
<rect x="1312.2" y="493.2" width="2" height="60.4" fill="#3d9981"/>
<rect x="1308.4" y="543.1" width="9.6" height="10.4" fill="#3d9981"/>
<rect x="1324.3" y="539.0" width="2" height="26.6" fill="#e0464a"/>
<rect x="1320.5" y="543.1" width="9.6" height="20.6" fill="#e0464a"/>
<rect x="1336.5" y="570.0" width="2" height="12.6" fill="#e0464a"/>
<rect x="1332.7" y="570.0" width="9.6" height="2.0" fill="#e0464a"/>
<rect x="1348.7" y="564.5" width="2" height="8.8" fill="#3d9981"/>
<rect x="1344.9" y="564.5" width="9.6" height="8.8" fill="#3d9981"/>
<rect x="1360.8" y="546.1" width="2" height="31.6" fill="#3d9981"/>
<rect x="1357.0" y="546.1" width="9.6" height="29.9" fill="#3d9981"/>
<rect x="1373.0" y="548.1" width="2" height="1.1" fill="#3d9981"/>
<rect x="1369.2" y="548.1" width="9.6" height="2.0" fill="#3d9981"/>
<rect x="1385.2" y="553.5" width="2" height="19.2" fill="#e0464a"/>
<rect x="1381.4" y="557.4" width="9.6" height="2.2" fill="#e0464a"/>
<rect x="1397.3" y="561.2" width="2" height="10.4" fill="#e0464a"/>
<rect x="1393.5" y="561.2" width="9.6" height="10.4" fill="#e0464a"/>
<rect x="1409.5" y="567.3" width="2" height="14.3" fill="#e0464a"/>
<rect x="1405.7" y="570.0" width="9.6" height="10.4" fill="#e0464a"/>
</g>
<line x1="74" y1="580" x2="1541" y2="580" stroke="#b83a3d" stroke-width="1.8" stroke-dasharray="2 4"/>
</svg>
<div style="position:absolute;left:91.00px;top:370.16px;height:37.2px;line-height:37.2px;font-size:31px;color:#131722;font-weight:400;white-space:nowrap;letter-spacing:0.097px;transform-origin:0 0;transform:scaleX(1.0062);">Ethereum / USD Coin · 15 · KUCOIN</div>
<svg style="position:absolute;left:634px;top:370px" width="38" height="38"><circle cx="19" cy="18.4" r="17.8" fill="#d9efe8"/><circle cx="19" cy="18.4" r="8.3" fill="#3d9981"/></svg>
<div style="position:absolute;left:702.40px;top:377.14px;height:30.0px;line-height:30.0px;font-size:25px;color:#131722;font-weight:400;white-space:nowrap;letter-spacing:0.000px;transform-origin:0 0;transform:scaleX(1.0628);">O</div>
<div style="position:absolute;left:726.80px;top:377.14px;height:30.0px;line-height:30.0px;font-size:25px;color:#df5650;font-weight:400;white-space:nowrap;letter-spacing:0.917px;transform-origin:0 0;transform:scaleX(1.0673);">1779.47</div>
<div style="position:absolute;left:840.60px;top:377.14px;height:30.0px;line-height:30.0px;font-size:25px;color:#131722;font-weight:400;white-space:nowrap;letter-spacing:0.000px;transform-origin:0 0;transform:scaleX(1.1500);">H</div>
<div style="position:absolute;left:863.60px;top:377.14px;height:30.0px;line-height:30.0px;font-size:25px;color:#df5650;font-weight:400;white-space:nowrap;letter-spacing:0.930px;transform-origin:0 0;transform:scaleX(1.0682);">1779.81</div>
<div style="position:absolute;left:979.48px;top:377.14px;height:30.0px;line-height:30.0px;font-size:25px;color:#131722;font-weight:400;white-space:nowrap;letter-spacing:0.000px;transform-origin:0 0;transform:scaleX(1.0607);">L</div>
<div style="position:absolute;left:997.49px;top:377.14px;height:30.0px;line-height:30.0px;font-size:25px;color:#df5650;font-weight:400;white-space:nowrap;letter-spacing:0.965px;transform-origin:0 0;transform:scaleX(1.0709);">1777.98</div>
<div style="position:absolute;left:1112.59px;top:377.14px;height:30.0px;line-height:30.0px;font-size:25px;color:#131722;font-weight:400;white-space:nowrap;letter-spacing:0.000px;transform-origin:0 0;transform:scaleX(1.0520);">C</div>
<div style="position:absolute;left:1135.50px;top:377.14px;height:30.0px;line-height:30.0px;font-size:25px;color:#df5650;font-weight:400;white-space:nowrap;letter-spacing:0.917px;transform-origin:0 0;transform:scaleX(1.0673);">1778.22</div>
<div style="position:absolute;left:1250.36px;top:377.14px;height:30.0px;line-height:30.0px;font-size:25px;color:#df5650;font-weight:400;white-space:nowrap;letter-spacing:0.864px;transform-origin:0 0;transform:scaleX(1.0718);">−1.11 (−0.06%)</div>
<div style="position:absolute;left:93.37px;top:421.39px;height:31.2px;line-height:31.2px;font-size:26px;color:#131722;font-weight:400;white-space:nowrap;letter-spacing:-0.084px;transform-origin:0 0;transform:scaleX(0.9938);">Vol · ETH</div>
<div style="position:absolute;left:231.11px;top:421.86px;height:30.6px;line-height:30.6px;font-size:25.5px;color:#df5650;font-weight:400;white-space:nowrap;letter-spacing:0.000px;transform-origin:0 0;transform:scaleX(1.0650);">5</div>
<div style="position:absolute;left:1560.08px;top:392.99px;height:29.0px;line-height:29.0px;font-size:24.2px;color:#131722;font-weight:400;white-space:nowrap;letter-spacing:0.785px;transform-origin:0 0;transform:scaleX(1.0588);">1800.00</div>
<div style="position:absolute;left:1560.08px;top:472.27px;height:29.0px;line-height:29.0px;font-size:24.2px;color:#131722;font-weight:400;white-space:nowrap;letter-spacing:0.785px;transform-origin:0 0;transform:scaleX(1.0588);">1790.00</div>
<div style="position:absolute;left:1560.08px;top:630.83px;height:29.0px;line-height:29.0px;font-size:24.2px;color:#131722;font-weight:400;white-space:nowrap;letter-spacing:0.785px;transform-origin:0 0;transform:scaleX(1.0588);">1770.00</div>
<div style="position:absolute;left:1560.08px;top:710.11px;height:29.0px;line-height:29.0px;font-size:24.2px;color:#131722;font-weight:400;white-space:nowrap;letter-spacing:0.785px;transform-origin:0 0;transform:scaleX(1.0588);">1760.00</div>
<div style="position:absolute;left:1560.08px;top:789.39px;height:29.0px;line-height:29.0px;font-size:24.2px;color:#131722;font-weight:400;white-space:nowrap;letter-spacing:0.785px;transform-origin:0 0;transform:scaleX(1.0588);">1750.00</div>
<div style="position:absolute;left:1560.08px;top:868.67px;height:29.0px;line-height:29.0px;font-size:24.2px;color:#131722;font-weight:400;white-space:nowrap;letter-spacing:0.785px;transform-origin:0 0;transform:scaleX(1.0588);">1740.00</div>
<div style="position:absolute;left:1560.08px;top:947.95px;height:29.0px;line-height:29.0px;font-size:24.2px;color:#131722;font-weight:400;white-space:nowrap;letter-spacing:0.785px;transform-origin:0 0;transform:scaleX(1.0588);">1730.00</div>
<div style="position:absolute;left:1560.08px;top:1027.23px;height:29.0px;line-height:29.0px;font-size:24.2px;color:#131722;font-weight:400;white-space:nowrap;letter-spacing:0.785px;transform-origin:0 0;transform:scaleX(1.0588);">1720.00</div>
<div style="position:absolute;left:1560.08px;top:1106.51px;height:29.0px;line-height:29.0px;font-size:24.2px;color:#131722;font-weight:400;white-space:nowrap;letter-spacing:0.785px;transform-origin:0 0;transform:scaleX(1.0588);">1710.00</div>
<div style="position:absolute;left:1560.08px;top:1185.79px;height:29.0px;line-height:29.0px;font-size:24.2px;color:#131722;font-weight:400;white-space:nowrap;letter-spacing:0.785px;transform-origin:0 0;transform:scaleX(1.0588);">1700.00</div>
<div style="position:absolute;left:1540px;top:540px;width:140px;height:23px;overflow:hidden"><div style="position:absolute;left:0;top:0;width:140px;height:60px">
<div style="position:absolute;left:20.08px;top:11.59px;height:29.0px;line-height:29.0px;font-size:24.2px;color:#131722;font-weight:400;white-space:nowrap;letter-spacing:0.785px;transform-origin:0 0;transform:scaleX(1.0588);">1780.00</div></div></div>
<div style="position:absolute;left:1540.0px;top:563.0px;width:130.0px;height:34.0px;background:#e0464a;border-radius:0 4px 4px 0;"></div>
<div style="position:absolute;left:1561.09px;top:565.99px;height:29.0px;line-height:29.0px;font-size:24.2px;color:#fff;font-weight:400;white-space:nowrap;letter-spacing:0.700px;transform-origin:0 0;transform:scaleX(1.0523);">1778.22</div>
<div style="position:absolute;left:1540.0px;top:1218.0px;width:47.5px;height:34.0px;background:#e25c57;border-radius:0 4px 4px 0;"></div>
<div style="position:absolute;left:1560.71px;top:1220.58px;height:28.8px;line-height:28.8px;font-size:24px;color:#fff;font-weight:400;white-space:nowrap;letter-spacing:0.000px;transform-origin:0 0;transform:scaleX(1.0263);">5</div>
<div style="position:absolute;top:1267.5px;height:29.0px;line-height:29.0px;font-size:24.2px;color:#131722;font-weight:400;white-space:nowrap;letter-spacing:1.1px;left:-321.0px;width:1200px;text-align:center;">12:00</div>
<div style="position:absolute;top:1267.5px;height:29.0px;line-height:29.0px;font-size:24.2px;color:#131722;font-weight:400;white-space:nowrap;letter-spacing:1.1px;left:-29.0px;width:1200px;text-align:center;">18:00</div>
<div style="position:absolute;top:1267.5px;height:29.0px;line-height:29.0px;font-size:24.2px;color:#131722;font-weight:700;white-space:nowrap;letter-spacing:1.1px;left:263.0px;width:1200px;text-align:center;">22</div>
<div style="position:absolute;top:1267.5px;height:29.0px;line-height:29.0px;font-size:24.2px;color:#131722;font-weight:400;white-space:nowrap;letter-spacing:1.1px;left:555.0px;width:1200px;text-align:center;">06:00</div>
<div style="position:absolute;top:1267.5px;height:29.0px;line-height:29.0px;font-size:24.2px;color:#131722;font-weight:400;white-space:nowrap;letter-spacing:1.1px;left:847.0px;width:1200px;text-align:center;">12:00</div>
<svg style="position:absolute;left:95px;top:1150px" width="72" height="72" viewBox="95 1150 72 72">
<circle cx="130.6" cy="1186.9" r="32.5" fill="#fff" stroke="#e3e5ea" stroke-width="1.8"/>
<g transform="translate(110 1173.7) scale(1.217)" fill="#131722"><path d="M14 22H7V11H0V4h14v18z"/><circle cx="20" cy="8" r="4"/><path d="M28 22h-8l7.5-18h8L28 22z"/></g>
</svg>

<svg style="position:absolute;left:1590px;top:1260px" width="40" height="16" viewBox="1590 1260 40 16" fill="none" stroke="#131722" stroke-width="2"><circle cx="1609.8" cy="1282.7" r="9.6"/><path d="M1609.8 1268.4V1273M1599.8 1270.2L1603.6 1274.6M1619.8 1270.2L1616 1274.6"/></svg>
<svg style="position:absolute;left:0;top:0;pointer-events:none" width="2820" height="1276" viewBox="0 0 2820 1276"><g fill="rgb(110,125,200)" opacity="0.125">
<rect x="1128.5" y="537" width="21" height="150" rx="10.5"/><rect x="1128.5" y="716" width="21" height="21.5" rx="10.5"/>
<rect x="1166" y="537" width="21" height="132" rx="10.5"/><rect x="1166" y="695" width="21" height="42.5" rx="10.5"/>
<rect x="1204.5" y="537" width="21" height="108" rx="10.5"/><rect x="1204.5" y="672" width="21" height="65.5" rx="10.5"/>
<rect x="1241.5" y="559" width="21" height="66" rx="10.5"/><rect x="1241.5" y="650" width="21" height="64" rx="10.5"/>
</g>
<g fill="none" stroke="rgb(120,135,160)" opacity="0.12" stroke-width="21" stroke-linecap="round" stroke-linejoin="round">
<path d="M1338 598Q1320 606 1317 620V668"/>
<path d="M1360 571H1472M1350 601H1486M1362 628H1472M1338 652H1486M1412 560V672M1366 571V601M1470 571V601"/>
<path d="M1510 573H1574M1500 601H1582M1542 604L1506 650H1574M1566 632L1580 652"/>
<path d="M1584 596H1680V640Q1680 668 1652 668M1626 562Q1626 630 1590 668"/>
</g>
<text x="1301" y="733" font-family="Liberation Sans" font-weight="700" font-size="49" letter-spacing="6.6" fill="rgb(120,135,160)" opacity="0.055">BLOCKBEATS</text>
</svg>
<div style="position:absolute;left:1698.6px;top:270.0px;width:563.4px;height:43.8px;background:#f2f3f5;border-radius:4px;box-shadow:0 1px 3px rgba(0,0,0,.03);"></div>
<div style="position:absolute;left:1713.10px;top:278.15px;height:30.4px;line-height:30.4px;font-size:25.3px;color:#0b0e14;font-weight:400;white-space:nowrap;letter-spacing:0.506px;transform-origin:0 0;transform:scaleX(1.0387);">Price</div>
<div style="position:absolute;left:1915.14px;top:278.15px;height:30.4px;line-height:30.4px;font-size:25.3px;color:#0b0e14;font-weight:400;white-space:nowrap;letter-spacing:0.195px;transform-origin:0 0;transform:scaleX(1.0147);">Size (ETH)</div>
<div style="position:absolute;left:2087.58px;top:278.15px;height:30.4px;line-height:30.4px;font-size:25.3px;color:#0b0e14;font-weight:400;white-space:nowrap;letter-spacing:0.347px;transform-origin:0 0;transform:scaleX(1.0267);">Total (USDC)</div>
<div style="position:absolute;left:1698.6px;top:337.0px;width:22.0px;height:40.1px;background:#f3c8c9;"></div>
<div style="position:absolute;left:1698.6px;top:373.0px;width:17.0px;height:40.1px;background:#f3c8c9;"></div>
<div style="position:absolute;left:1698.6px;top:409.0px;width:24.0px;height:40.1px;background:#f3c8c9;"></div>
<div style="position:absolute;left:1698.6px;top:445.0px;width:29.0px;height:40.1px;background:#f3c8c9;"></div>
<div style="position:absolute;left:1698.6px;top:481.0px;width:33.0px;height:40.1px;background:#f3c8c9;"></div>
<div style="position:absolute;left:1698.6px;top:517.0px;width:23.0px;height:40.1px;background:#f3c8c9;"></div>
<div style="position:absolute;left:1698.6px;top:553.0px;width:191.0px;height:40.1px;background:#f3c8c9;"></div>
<div style="position:absolute;left:1698.6px;top:589.0px;width:21.0px;height:40.1px;background:#f3c8c9;"></div>
<div style="position:absolute;left:1698.6px;top:625.0px;width:91.0px;height:40.1px;background:#f3c8c9;"></div>
<div style="position:absolute;left:1698.6px;top:661.0px;width:80.5px;height:40.1px;background:#f3c8c9;"></div>
<div style="position:absolute;left:1698.6px;top:697.0px;width:7.0px;height:40.1px;background:#f3c8c9;"></div>
<div style="position:absolute;left:1698.6px;top:733.0px;width:17.5px;height:40.1px;background:#f3c8c9;"></div>
<div style="position:absolute;left:1712.91px;top:343.79px;height:29.0px;line-height:29.0px;font-size:24.2px;color:#d2524b;font-weight:400;white-space:nowrap;letter-spacing:0.554px;transform-origin:0 0;transform:scaleX(1.0411);">1716.226</div>
<div style="position:absolute;left:1954.51px;top:343.79px;height:29.0px;line-height:29.0px;font-size:24.2px;color:#d2524b;font-weight:400;white-space:nowrap;letter-spacing:0.404px;transform-origin:0 0;transform:scaleX(1.0276);">0.01</div>
<div style="position:absolute;left:2179.14px;top:343.79px;height:29.0px;line-height:29.0px;font-size:24.2px;color:#d2524b;font-weight:400;white-space:nowrap;letter-spacing:0.527px;transform-origin:0 0;transform:scaleX(1.0375);">21.28</div>
<div style="position:absolute;left:1712.94px;top:379.79px;height:29.0px;line-height:29.0px;font-size:24.2px;color:#d2524b;font-weight:400;white-space:nowrap;letter-spacing:0.334px;transform-origin:0 0;transform:scaleX(1.0244);">1715.581</div>
<div style="position:absolute;left:1954.51px;top:379.79px;height:29.0px;line-height:29.0px;font-size:24.2px;color:#d2524b;font-weight:400;white-space:nowrap;letter-spacing:0.404px;transform-origin:0 0;transform:scaleX(1.0276);">0.01</div>
<div style="position:absolute;left:2184.50px;top:379.79px;height:29.0px;line-height:29.0px;font-size:24.2px;color:#d2524b;font-weight:400;white-space:nowrap;letter-spacing:-0.116px;transform-origin:0 0;transform:scaleX(0.9921);">17.16</div>
<div style="position:absolute;left:1712.88px;top:415.79px;height:29.0px;line-height:29.0px;font-size:24.2px;color:#d2524b;font-weight:400;white-space:nowrap;letter-spacing:0.764px;transform-origin:0 0;transform:scaleX(1.0578);">1709.087</div>
<div style="position:absolute;left:1954.51px;top:415.79px;height:29.0px;line-height:29.0px;font-size:24.2px;color:#d2524b;font-weight:400;white-space:nowrap;letter-spacing:0.404px;transform-origin:0 0;transform:scaleX(1.0276);">0.01</div>
<div style="position:absolute;left:2175.20px;top:415.79px;height:29.0px;line-height:29.0px;font-size:24.2px;color:#d2524b;font-weight:400;white-space:nowrap;letter-spacing:0.966px;transform-origin:0 0;transform:scaleX(1.0710);">22.56</div>
<div style="position:absolute;left:1712.90px;top:451.79px;height:29.0px;line-height:29.0px;font-size:24.2px;color:#d2524b;font-weight:400;white-space:nowrap;letter-spacing:0.656px;transform-origin:0 0;transform:scaleX(1.0489);">1706.724</div>
<div style="position:absolute;left:1952.47px;top:451.79px;height:29.0px;line-height:29.0px;font-size:24.2px;color:#d2524b;font-weight:400;white-space:nowrap;letter-spacing:0.924px;transform-origin:0 0;transform:scaleX(1.0658);">0.02</div>
<div style="position:absolute;left:2182.48px;top:451.79px;height:29.0px;line-height:29.0px;font-size:24.2px;color:#d2524b;font-weight:400;white-space:nowrap;letter-spacing:0.148px;transform-origin:0 0;transform:scaleX(1.0103);">27.31</div>
<div style="position:absolute;left:1712.91px;top:487.79px;height:29.0px;line-height:29.0px;font-size:24.2px;color:#d2524b;font-weight:400;white-space:nowrap;letter-spacing:0.554px;transform-origin:0 0;transform:scaleX(1.0411);">1706.315</div>
<div style="position:absolute;left:1952.47px;top:487.79px;height:29.0px;line-height:29.0px;font-size:24.2px;color:#d2524b;font-weight:400;white-space:nowrap;letter-spacing:0.924px;transform-origin:0 0;transform:scaleX(1.0658);">0.02</div>
<div style="position:absolute;left:2180.71px;top:487.79px;height:29.0px;line-height:29.0px;font-size:24.2px;color:#d2524b;font-weight:400;white-space:nowrap;letter-spacing:0.361px;transform-origin:0 0;transform:scaleX(1.0253);">30.71</div>
<div style="position:absolute;left:1712.87px;top:523.79px;height:29.0px;line-height:29.0px;font-size:24.2px;color:#d2524b;font-weight:400;white-space:nowrap;letter-spacing:0.830px;transform-origin:0 0;transform:scaleX(1.0628);">1704.500</div>
<div style="position:absolute;left:1954.51px;top:523.79px;height:29.0px;line-height:29.0px;font-size:24.2px;color:#d2524b;font-weight:400;white-space:nowrap;letter-spacing:0.404px;transform-origin:0 0;transform:scaleX(1.0276);">0.01</div>
<div style="position:absolute;left:2179.14px;top:523.79px;height:29.0px;line-height:29.0px;font-size:24.2px;color:#d2524b;font-weight:400;white-space:nowrap;letter-spacing:0.527px;transform-origin:0 0;transform:scaleX(1.0375);">22.16</div>
<div style="position:absolute;left:1712.95px;top:559.79px;height:29.0px;line-height:29.0px;font-size:24.2px;color:#d2524b;font-weight:400;white-space:nowrap;letter-spacing:0.252px;transform-origin:0 0;transform:scaleX(1.0183);">1681.161</div>
<div style="position:absolute;left:1954.51px;top:559.79px;height:29.0px;line-height:29.0px;font-size:24.2px;color:#d2524b;font-weight:400;white-space:nowrap;letter-spacing:0.365px;transform-origin:0 0;transform:scaleX(1.0248);">0.10</div>
<div style="position:absolute;left:2163.50px;top:559.79px;height:29.0px;line-height:29.0px;font-size:24.2px;color:#d2524b;font-weight:400;white-space:nowrap;letter-spacing:0.637px;transform-origin:0 0;transform:scaleX(1.0470);">176.02</div>
<div style="position:absolute;left:1712.85px;top:595.79px;height:29.0px;line-height:29.0px;font-size:24.2px;color:#d2524b;font-weight:400;white-space:nowrap;letter-spacing:0.943px;transform-origin:0 0;transform:scaleX(1.0720);">1650.000</div>
<div style="position:absolute;left:1954.51px;top:595.79px;height:29.0px;line-height:29.0px;font-size:24.2px;color:#d2524b;font-weight:400;white-space:nowrap;letter-spacing:0.404px;transform-origin:0 0;transform:scaleX(1.0276);">0.01</div>
<div style="position:absolute;left:2177.19px;top:595.79px;height:29.0px;line-height:29.0px;font-size:24.2px;color:#d2524b;font-weight:400;white-space:nowrap;letter-spacing:0.731px;transform-origin:0 0;transform:scaleX(1.0533);">19.80</div>
<div style="position:absolute;left:1712.85px;top:631.79px;height:29.0px;line-height:29.0px;font-size:24.2px;color:#d2524b;font-weight:400;white-space:nowrap;letter-spacing:0.943px;transform-origin:0 0;transform:scaleX(1.0720);">1602.500</div>
<div style="position:absolute;left:1952.46px;top:631.79px;height:29.0px;line-height:29.0px;font-size:24.2px;color:#d2524b;font-weight:400;white-space:nowrap;letter-spacing:0.991px;transform-origin:0 0;transform:scaleX(1.0705);">0.05</div>
<div style="position:absolute;left:2177.96px;top:631.79px;height:29.0px;line-height:29.0px;font-size:24.2px;color:#d2524b;font-weight:400;white-space:nowrap;letter-spacing:0.663px;transform-origin:0 0;transform:scaleX(1.0475);">80.13</div>
<div style="position:absolute;left:1712.85px;top:667.79px;height:29.0px;line-height:29.0px;font-size:24.2px;color:#d2524b;font-weight:400;white-space:nowrap;letter-spacing:0.943px;transform-origin:0 0;transform:scaleX(1.0720);">1600.000</div>
<div style="position:absolute;left:1952.47px;top:667.79px;height:29.0px;line-height:29.0px;font-size:24.2px;color:#d2524b;font-weight:400;white-space:nowrap;letter-spacing:0.956px;transform-origin:0 0;transform:scaleX(1.0675);">0.04</div>
<div style="position:absolute;left:2178.74px;top:667.79px;height:29.0px;line-height:29.0px;font-size:24.2px;color:#d2524b;font-weight:400;white-space:nowrap;letter-spacing:0.546px;transform-origin:0 0;transform:scaleX(1.0387);">71.04</div>
<div style="position:absolute;left:1712.86px;top:703.79px;height:29.0px;line-height:29.0px;font-size:24.2px;color:#d2524b;font-weight:400;white-space:nowrap;letter-spacing:0.893px;transform-origin:0 0;transform:scaleX(1.0679);">1550.000</div>
<div style="position:absolute;left:1952.47px;top:703.79px;height:29.0px;line-height:29.0px;font-size:24.2px;color:#d2524b;font-weight:400;white-space:nowrap;letter-spacing:0.974px;transform-origin:0 0;transform:scaleX(1.0690);">0.00</div>
<div style="position:absolute;left:2192.69px;top:703.79px;height:29.0px;line-height:29.0px;font-size:24.2px;color:#d2524b;font-weight:400;white-space:nowrap;letter-spacing:0.679px;transform-origin:0 0;transform:scaleX(1.0473);">5.73</div>
<div style="position:absolute;left:1712.86px;top:739.79px;height:29.0px;line-height:29.0px;font-size:24.2px;color:#d2524b;font-weight:400;white-space:nowrap;letter-spacing:0.893px;transform-origin:0 0;transform:scaleX(1.0679);">1500.000</div>
<div style="position:absolute;left:1954.51px;top:739.79px;height:29.0px;line-height:29.0px;font-size:24.2px;color:#d2524b;font-weight:400;white-space:nowrap;letter-spacing:0.404px;transform-origin:0 0;transform:scaleX(1.0276);">0.01</div>
<div style="position:absolute;left:2177.19px;top:739.79px;height:29.0px;line-height:29.0px;font-size:24.2px;color:#d2524b;font-weight:400;white-space:nowrap;letter-spacing:0.731px;transform-origin:0 0;transform:scaleX(1.0533);">15.00</div>
<div style="position:absolute;left:1699.86px;top:801.19px;height:55.8px;line-height:55.8px;font-size:46.5px;color:#0b0e14;font-weight:400;white-space:nowrap;letter-spacing:0.000px;transform-origin:0 0;transform:scaleX(1.1641);">$-</div>
<div style="position:absolute;left:2164.65px;top:812.37px;height:33.0px;line-height:33.0px;font-size:27.5px;color:#454c5c;font-weight:400;white-space:nowrap;letter-spacing:1.626px;transform-origin:0 0;transform:scaleX(1.0934);">~$-</div>
<div style="position:absolute;left:2381.54px;top:290.50px;height:33.6px;line-height:33.6px;font-size:28px;color:#1c2028;font-weight:400;white-space:nowrap;letter-spacing:0.151px;transform-origin:0 0;transform:scaleX(1.0087);">Trade</div>
<div style="position:absolute;left:2590.18px;top:290.90px;height:33.6px;line-height:33.6px;font-size:28px;color:#1c2028;font-weight:400;white-space:nowrap;letter-spacing:-0.114px;transform-origin:0 0;transform:scaleX(0.9922);">Deposit/Withdraw</div>
<div style="position:absolute;left:2277.5px;top:343.7px;width:280.5px;height:4.3px;background:#e4e8f0;"></div>
<div style="position:absolute;left:2558.0px;top:343.7px;width:262.0px;height:4.3px;background:#161b2a;"></div>
<div style="position:absolute;left:2386.83px;top:400.61px;height:34.0px;line-height:34.0px;font-size:28.3px;color:#4583c4;font-weight:400;white-space:nowrap;letter-spacing:0.033px;transform-origin:0 0;transform:scaleX(1.0021);">ETH Vault</div>
<div style="position:absolute;left:2577.88px;top:400.61px;height:34.0px;line-height:34.0px;font-size:28.3px;color:#1c2028;font-weight:400;white-space:nowrap;letter-spacing:-0.008px;transform-origin:0 0;transform:scaleX(0.9995);">USDC Vault</div>
<div style="position:absolute;left:2341.0px;top:454.0px;width:435.0px;height:4.0px;background:#e6e8ec;"></div>
<div style="position:absolute;left:2356.0px;top:454.0px;width:191.0px;height:4.0px;background:#3f88d0;"></div>
<div style="position:absolute;left:2341.3px;top:530.4px;width:433.7px;height:79.3px;background:#fafbfc;box-sizing:border-box;border:1.5px solid #e4e6ea;border-radius:9px;box-shadow:0 1px 2px rgba(0,0,0,.03);"></div>
<div style="position:absolute;left:2375.06px;top:554.86px;height:32.8px;line-height:32.8px;font-size:27.3px;color:#1c2028;font-weight:400;white-space:nowrap;letter-spacing:0.659px;transform-origin:0 0;transform:scaleX(1.0402);">0.04</div>
<div style="position:absolute;left:2656.6px;top:537.9px;width:95.4px;height:64.3px;background:#f0f2f5;border-radius:11px;"></div>
<div style="position:absolute;left:2679.62px;top:556.28px;height:28.8px;line-height:28.8px;font-size:24px;color:#131722;font-weight:700;white-space:nowrap;letter-spacing:0.272px;transform-origin:0 0;transform:scaleX(1.0122);">Max</div>
<div style="position:absolute;left:2558.35px;top:614.69px;height:31.2px;line-height:31.2px;font-size:26px;color:#1c2028;font-weight:400;white-space:nowrap;letter-spacing:0.553px;transform-origin:0 0;transform:scaleX(1.0331);">Max:</div>
<div style="position:absolute;left:2624.37px;top:614.69px;height:31.2px;line-height:31.2px;font-size:26px;color:#131722;font-weight:700;white-space:nowrap;letter-spacing:1.241px;transform-origin:0 0;transform:scaleX(1.0869);">0.0543</div>
<div style="position:absolute;left:2724.11px;top:614.69px;height:31.2px;line-height:31.2px;font-size:26px;color:#1c2028;font-weight:400;white-space:nowrap;letter-spacing:0.114px;transform-origin:0 0;transform:scaleX(1.0048);">ETH</div>
<div style="position:absolute;left:2341.0px;top:664.8px;width:434.8px;height:79.9px;background:#5fbe6c;border-radius:10.5px;"></div>
<div style="position:absolute;left:2474.17px;top:688.70px;height:33.6px;line-height:33.6px;font-size:28px;color:#fff;font-weight:700;white-space:nowrap;letter-spacing:0.084px;transform-origin:0 0;transform:scaleX(1.0052);">Deposit ETH</div>
<div style="position:absolute;left:2341.0px;top:824.5px;width:435.0px;height:1.5px;background:#e8eaee;"></div>
<div style="position:absolute;left:2341.3px;top:907.4px;width:434.4px;height:78.7px;background:#fafbfc;box-sizing:border-box;border:1.5px solid #e4e6ea;border-radius:9px;box-shadow:0 1px 2px rgba(0,0,0,.03);"></div>
<div style="position:absolute;left:2376.56px;top:931.80px;height:33.6px;line-height:33.6px;font-size:28px;color:#6b7489;font-weight:400;white-space:nowrap;letter-spacing:0.318px;transform-origin:0 0;transform:scaleX(1.0251);">Withdraw from vault..</div>
<div style="position:absolute;left:2656.2px;top:915.0px;width:96.4px;height:64.2px;background:#f0f2f5;border-radius:11px;"></div>
<div style="position:absolute;left:2679.62px;top:933.28px;height:28.8px;line-height:28.8px;font-size:24px;color:#131722;font-weight:700;white-space:nowrap;letter-spacing:0.320px;transform-origin:0 0;transform:scaleX(1.0144);">Max</div>
<div style="position:absolute;left:2625.28px;top:993.19px;height:31.2px;line-height:31.2px;font-size:26px;color:#1c2028;font-weight:400;white-space:nowrap;letter-spacing:1.083px;transform-origin:0 0;transform:scaleX(1.0668);">Max:</div>
<div style="position:absolute;left:2695.69px;top:993.19px;height:31.2px;line-height:31.2px;font-size:26px;color:#131722;font-weight:700;white-space:nowrap;letter-spacing:0.000px;transform-origin:0 0;transform:scaleX(1.2551);">0</div>
<div style="position:absolute;left:2721.25px;top:993.19px;height:31.2px;line-height:31.2px;font-size:26px;color:#1c2028;font-weight:400;white-space:nowrap;letter-spacing:0.741px;transform-origin:0 0;transform:scaleX(1.0320);">ETH</div>
<div style="position:absolute;left:2340.8px;top:1068.8px;width:435.4px;height:80.1px;background:#a8c4f8;border-radius:10.5px;"></div>
<div style="position:absolute;left:2463.60px;top:1076.34px;height:32.4px;line-height:32.4px;font-size:27px;color:#fff;font-weight:700;white-space:nowrap;letter-spacing:0.395px;transform-origin:0 0;transform:scaleX(1.0246);">Withdraw ETH</div>
<div style="position:absolute;left:2457.06px;top:1109.94px;height:32.4px;line-height:32.4px;font-size:27px;color:#fff;font-weight:700;white-space:nowrap;letter-spacing:0.867px;transform-origin:0 0;transform:scaleX(1.0685);">(Single-chain)</div>
</div></body></html>
